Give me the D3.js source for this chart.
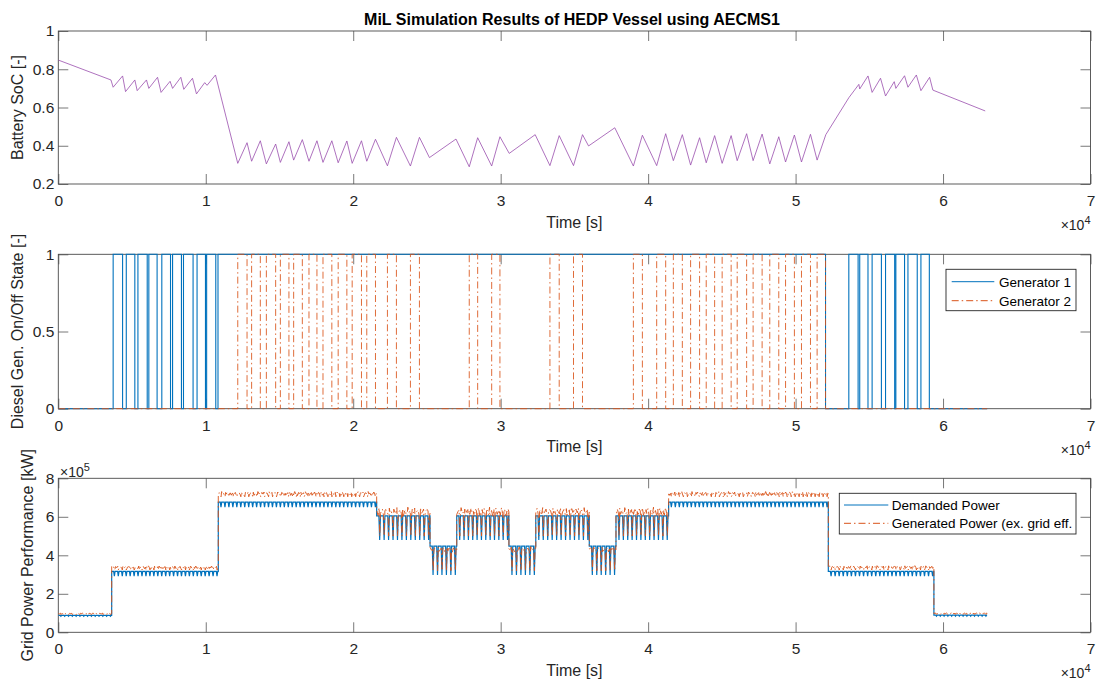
<!DOCTYPE html>
<html><head><meta charset="utf-8">
<script src="https://cdn.jsdelivr.net/npm/d3@7"></script>
<style>body{margin:0;background:#fff}svg{display:block;font-family:"Liberation Sans",Arial,sans-serif}</style>
</head><body><svg id="c" width="1097" height="682"></svg>
<script>
// ---------------- DATA ----------------
const titleText = "MiL Simulation Results of HEDP Vessel using AECMS1";
const xTickValues = [0,10000,20000,30000,40000,50000,60000,70000]; // s
const socTicks = [0.2,0.4,0.6,0.8,1];
const genTicks = [0,0.5,1];
const powerTicks = [0,2,4,6,8]; // x1e5 kW

// Battery SoC (time in s, SoC in -)
const socTime = [0,3570,3720,4360,4560,5190,5350,5980,6140,6730,6970,7580,7750,8310,8510,9100,9370,9930,10090,10660,
 12170,12800,13110,13700,14110,14740,15060,15640,15960,16550,17000,17540,17950,18550,18980,19570,19930,20560,20920,21510,
 22320,22930,23880,24490,25170,26970,27870,28440,29390,29950,30580,32340,33340,33970,34940,35550,35960,37740,39000,39610,
 40580,41190,41710,42320,42880,43490,43940,44510,45020,45630,46040,46680,47120,47730,48250,48860,49320,49920,50400,51010,
 51460,52050,53610,54290,54350,54910,55190,55760,56100,56690,56800,57390,57620,58190,58500,59090,59310,62860];
const socValue = [0.848,0.744,0.706,0.765,0.683,0.744,0.688,0.744,0.700,0.758,0.679,0.737,0.700,0.758,0.695,0.753,0.671,0.730,0.716,0.770,
 0.308,0.416,0.319,0.426,0.305,0.409,0.313,0.421,0.325,0.432,0.319,0.426,0.313,0.426,0.311,0.425,0.308,0.426,0.319,0.434,
 0.295,0.444,0.294,0.444,0.338,0.435,0.290,0.442,0.294,0.447,0.360,0.458,0.296,0.453,0.296,0.458,0.399,0.494,0.294,0.455,
 0.296,0.463,0.322,0.458,0.299,0.442,0.311,0.453,0.308,0.453,0.322,0.463,0.322,0.461,0.305,0.447,0.315,0.456,0.315,0.460,
 0.325,0.458,0.651,0.721,0.697,0.765,0.679,0.753,0.660,0.735,0.700,0.766,0.706,0.770,0.688,0.758,0.691,0.582];

// Diesel generator on-intervals (s)
const gen1OnStart = [3720,4610,5400,6140,7020,7750,8490,9410,10060,10830,53610,54350,55190,56100,56800,57620,58500];
const gen1OnEnd   = [4360,5190,6030,6700,7610,8350,9140,9980,10680,52030,54240,54910,55820,56720,57390,58250,59070];
const gen2OnStart = [12170,13110,14110,15060,15960,17000,17950,18980,19930,20920,22320,23880,27870,29390,33340,34940,39000,40580,41710,42880,43940,45020,46040,47120,48250,49320,50400,51460];
const gen2OnEnd   = [12800,13700,14740,15640,16550,17540,18550,19570,20560,21510,22930,24490,28440,29950,33970,35550,39610,41190,42320,43490,44510,45630,46680,47730,48860,49920,51010,52030];
const simEnd = 62990;

// Grid power segments (time in s, power in 1e5 kW)
const segStart   = [0,3620,10850,21590,25210,27020,30560,32380,36010,37820,41390,52220,59380];
const segEnd     = [3620,10850,21590,25210,27020,30560,32380,36010,37820,41390,52220,59380,62990];
const segTeeth   = [14,27,40,12,6,12,6,12,6,12,40,26,14];
const demandTop  = [0.88,3.16,6.76,6.05,4.48,6.05,4.48,6.05,4.48,6.05,6.76,3.17,0.89];
const demandDip  = [0.83,2.92,6.50,4.80,2.98,4.80,2.98,4.80,2.98,4.80,6.50,2.92,0.84];
const genBase    = [0.97,3.37,7.20,6.25,4.30,6.25,4.30,6.25,4.30,6.25,7.20,3.38,0.98];
const genJitter  = [0.03,0.08,0.11,0.25,0.15,0.25,0.15,0.25,0.15,0.25,0.11,0.08,0.03];
const genLow     = [0.92,3.24,7.04,5.00,3.20,5.00,3.20,5.00,3.20,5.00,7.04,3.24,0.93];
const genNoise   = [0.3,-0.5,0.8,-0.2,0.1,-0.9,0.6,0.2,-0.4,0.9,-0.7,0.0,0.5,-0.3,0.7,-0.8,0.2,0.4,-0.6,1.0,-0.1,0.3,-0.9,0.6,-0.2,0.8,-0.5,0.1,0.4,-0.7,0.9,-0.3,0.0,0.6,-0.8,0.2,0.5];

// ---------------- DRAW ----------------
const C = {blue:"#0072BD", red:"#D95319", purple:"#9a4fae", axis:"#262626"};
const svg = d3.select("#c");
const xL = 58.3, xR = 1090.5;
const x = d3.scaleLinear().domain([0,70000]).range([xL,xR]);
const panels = [{top:31,bottom:184},{top:254.3,bottom:408.7},{top:478.3,bottom:632.3}];

svg.append("text").attr("x",572).attr("y",25).attr("text-anchor","middle")
  .attr("font-weight","bold").attr("font-size",16).attr("fill","#000").text(titleText);

function frame(i, y, yTicks, yFmt, ylabel, ylabelX){
  const P = panels[i];
  const g = svg.append("g");
  const fs = 15.5;
  const ax = (sel)=>{sel.select(".domain").remove(); sel.attr("font-size",fs).attr("font-family",null).attr("color",C.axis);
     sel.selectAll(".tick line").attr("stroke","#555").attr("stroke-width",0.8);};
  g.append("g").attr("transform",`translate(0,${P.bottom})`)
   .call(d3.axisBottom(x).tickValues(xTickValues).tickFormat(d=>d/10000).tickSizeInner(-10).tickSizeOuter(0).tickPadding(11)).call(ax);
  g.append("g").attr("transform",`translate(0,${P.top})`)
   .call(d3.axisTop(x).tickValues(xTickValues).tickFormat("").tickSizeInner(-10).tickSizeOuter(0)).call(ax);
  g.append("g").attr("transform",`translate(${xL},0)`)
   .call(d3.axisLeft(y).tickValues(yTicks).tickFormat(yFmt).tickSizeInner(-10).tickSizeOuter(0).tickPadding(4)).call(ax);
  g.append("g").attr("transform",`translate(${xR},0)`)
   .call(d3.axisRight(y).tickValues(yTicks).tickFormat("").tickSizeInner(-10).tickSizeOuter(0)).call(ax);
  g.append("rect").attr("x",xL).attr("y",P.top).attr("width",xR-xL).attr("height",P.bottom-P.top)
   .attr("fill","none").attr("stroke","#4a4a4a").attr("stroke-width",0.9);
  svg.append("text").attr("x",(xL+xR)/2).attr("y",P.bottom+43.5).attr("text-anchor","middle")
    .attr("font-size",16).attr("fill",C.axis).text("Time [s]");
  const ex = svg.append("text").attr("x",xR).attr("y",P.bottom+46).attr("text-anchor","end")
    .attr("font-size",14).attr("fill",C.axis);
  ex.append("tspan").text("×10");
  ex.append("tspan").attr("font-size",11).attr("dy",-6).text("4");
  svg.append("text").attr("transform",`translate(${ylabelX},${(P.top+P.bottom)/2}) rotate(-90)`)
    .attr("text-anchor","middle").attr("font-size",16).attr("fill",C.axis).text(ylabel);
  const id = "clip"+i;
  svg.append("clipPath").attr("id",id).append("rect").attr("x",xL).attr("y",P.top-2).attr("width",xR-xL).attr("height",P.bottom-P.top+4);
  return svg.append("g").attr("clip-path",`url(#${id})`);
}

// Panel 1: SoC
const y1 = d3.scaleLinear().domain([0.2,1]).range([panels[0].bottom,panels[0].top]);
const g1 = frame(0,y1,socTicks,d=>d3.format("")(d),"Battery SoC [-]",22.5);
g1.append("path").datum(d3.zip(socTime,socValue))
  .attr("d",d3.line().x(d=>x(d[0])).y(d=>y1(d[1])))
  .attr("fill","none").attr("stroke",C.purple).attr("stroke-opacity",0.8).attr("stroke-width",1);

// Panel 2: generator states
const y2 = d3.scaleLinear().domain([0,1]).range([panels[1].bottom,panels[1].top]);
const g2 = frame(1,y2,genTicks,d=>d3.format("")(d),"Diesel Gen. On/Off State [-]",22.5);
function stepSeries(starts, ends){
  const pts=[[0,0]];
  starts.forEach((s,i)=>{pts.push([s,1]); pts.push([ends[i],0]);});
  pts.push([simEnd,0]);
  return pts;
}
const stepLine = d3.line().x(d=>x(d[0])).y(d=>y2(d[1])).curve(d3.curveStepAfter);
g2.append("path").datum(stepSeries(gen1OnStart,gen1OnEnd)).attr("d",stepLine)
  .attr("fill","none").attr("stroke",C.blue).attr("stroke-width",1.1);
g2.append("path").datum(stepSeries(gen2OnStart,gen2OnEnd)).attr("d",stepLine)
  .attr("fill","none").attr("stroke",C.red).attr("stroke-width",1).attr("stroke-opacity",0.85).attr("stroke-dasharray","7,3,1.5,3");

function legend(x0,y0,x1,y1b,items,lineX0,lineX1,textX,rows){
  svg.append("rect").attr("x",x0).attr("y",y0).attr("width",x1-x0).attr("height",y1b-y0)
    .attr("fill","#fff").attr("stroke","#262626").attr("stroke-width",0.9);
  items.forEach((it,i)=>{
    svg.append("line").attr("x1",lineX0).attr("x2",lineX1).attr("y1",rows[i]).attr("y2",rows[i])
      .attr("stroke",it.color).attr("stroke-width",1).attr("stroke-dasharray",it.dash||null);
    svg.append("text").attr("x",textX).attr("y",rows[i]+4.8).attr("font-size",13.5).attr("fill","#000").text(it.label);
  });
}
legend(946,269.3,1076,310.7,[{label:"Generator 1",color:C.blue},{label:"Generator 2",color:C.red,dash:"7,3,1.5,3"}],951.7,994.3,999,[281.7,300.7]);

// Panel 3: power
const y3 = d3.scaleLinear().domain([0,8]).range([panels[2].bottom,panels[2].top]);
const g3 = frame(2,y3,powerTicks,d=>d,"Grid Power Performance [kW]",33);
const e5 = svg.append("text").attr("x",60).attr("y",476.5).attr("font-size",14).attr("fill",C.axis);
e5.append("tspan").text("×10");
e5.append("tspan").attr("font-size",11).attr("dy",-6).text("5");

const demandPts=[], genPts=[]; let ni=0; const N=genNoise.length;
segStart.forEach((s,i)=>{
  const e=segEnd[i], n=segTeeth[i], p=(e-s)/n, j=genJitter[i];
  for(let k=0;k<n;k++){
    const t0=s+k*p;
    demandPts.push([t0,demandTop[i]],[t0+0.5*p,demandTop[i]],[t0+0.68*p,demandDip[i]],[t0+0.86*p,demandTop[i]]);
    genPts.push([t0,genBase[i]+genNoise[ni%N]*j],[t0+0.3*p,genBase[i]+genNoise[(ni+1)%N]*j],
                [t0+0.55*p,genBase[i]+genNoise[(ni+2)%N]*j],[t0+0.7*p,genLow[i]],[t0+0.85*p,genBase[i]+genNoise[(ni+3)%N]*j]);
    ni+=4;
  }
  demandPts.push([e,demandTop[i]]); genPts.push([e,genBase[i]]);
});
const pLine = d3.line().x(d=>x(d[0])).y(d=>y3(d[1]));
g3.append("path").datum(demandPts).attr("d",pLine).attr("fill","none").attr("stroke",C.blue).attr("stroke-width",1.2);
g3.append("path").datum(genPts).attr("d",pLine).attr("fill","none").attr("stroke",C.red).attr("stroke-width",0.9).attr("stroke-dasharray","7,3,1.5,3");

legend(839.3,493.3,1076,534,[{label:"Demanded Power",color:C.blue},{label:"Generated Power (ex. grid eff.",color:C.red,dash:"7,3,1.5,3"}],844,888.3,891.7,[505,523.3]);
</script></body></html>
